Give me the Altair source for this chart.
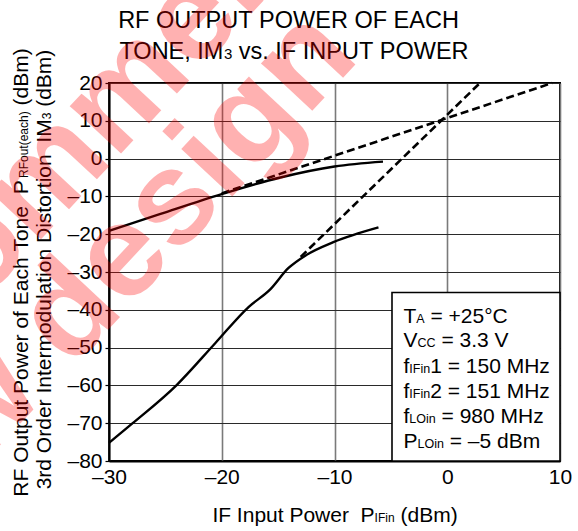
import altair as alt
import pandas as pd

# ---------------- data ----------------
pout_x = [-30.0, -25.5, -20.0, -14.8, -10.0, -5.7]
pout_y = [-19.1, -14.7, -9.4, -5.0, -2.1, -0.8]

im3_x = [-30.0, -27.9, -24.0, -20.6, -17.6, -15.7, -14.1, -12.5, -10.1, -6.1]
im3_y = [-75.2, -70.0, -59.9, -48.9, -39.2, -34.6, -29.0, -25.5, -22.1, -18.2]

pout_ext_x = [-20.0, 9.3]
pout_ext_y = [-9.2, 20.0]
im3_ext_x = [-13.0, 2.9]
im3_ext_y = [-26.0, 20.0]

x_ticks = [-30, -20, -10, 0, 10]
y_ticks = [-80, -70, -60, -50, -40, -30, -20, -10, 0, 10, 20]

title_line1 = "RF OUTPUT POWER OF EACH"
title_line2 = [("TONE, IM", "m"), ("3", "s"), (" vs. IF INPUT POWER", "m")]
x_title = [("IF Input Power  P", "m"), ("IFin", "s"), (" (dBm)", "m")]
y_title1 = [("RF Output Power of Each Tone  P", "m"), ("RFout(each)", "s"), (" (dBm)", "m")]
y_title2 = [("3rd Order Intermodulation Distortion  IM", "m"), ("3", "s"), (" (dBm)", "m")]
cond_lines = [
    [("T", "m"), ("A", "s"), (" = +25°C", "m")],
    [("V", "m"), ("CC", "s"), (" = 3.3 V", "m")],
    [("f", "m"), ("IFin", "s"), ("1 = 150 MHz", "m")],
    [("f", "m"), ("IFin", "s"), ("2 = 151 MHz", "m")],
    [("f", "m"), ("LOin", "s"), (" = 980 MHz", "m")],
    [("P", "m"), ("LOin", "s"), (" = –5 dBm", "m")],
]
watermark = ["Not recommended", "for new design"]

# ---------------- layout ----------------
FONT = "Liberation Sans"
W, H = 451, 378
PL, PT = 109, 83
XMIN, XMAX, YMIN, YMAX = -30, 10, -80, 20
NB = "\u00a0"

AW = {' ': 278, NB: 278, '(': 333, ')': 333, '+': 584, ',': 278, '-': 333, '.': 278,
      '=': 584, '°': 400, '–': 556}
for c in "0123456789":
    AW[c] = 556
AW.update(dict(zip("ABCDEFGHIJKLMNOPQRSTUVWXYZ",
                   [667, 667, 722, 722, 667, 611, 778, 722, 278, 500, 667, 556, 833,
                    722, 778, 667, 778, 722, 667, 611, 722, 667, 944, 667, 667, 611])))
AW.update(dict(zip("abcdefghijklmnopqrstuvwxyz",
                   [556, 556, 500, 556, 556, 278, 556, 556, 222, 222, 500, 222, 833,
                    556, 556, 556, 556, 333, 500, 278, 556, 500, 722, 500, 500, 500])))


def tw(s, size):
    return sum(AW.get(c, 556) for c in s) * size / 1000.0


one = alt.Data(values=[{"k": 0}])


def txt(s, x, y, size, angle=0, align="left", **kw):
    props = dict(text=s.replace(" ", NB), x=x, y=y, fontSize=size, font=FONT,
                 align=align, baseline="alphabetic", color=kw.pop("color", "black"))
    if angle:
        props["angle"] = angle
    props.update(kw)
    return alt.Chart(one).mark_text(**props)


def run(segs, x0, y0, main, sub, vertical=False):
    out = []
    pos = 0.0
    for s, kind in segs:
        size = main if kind == "m" else sub
        lead = len(s) - len(s.lstrip(" "))
        off = pos + tw(" " * lead, size)
        body = s.strip(" ")
        if vertical:
            out.append(txt(body, x0, y0 - off, size, angle=270))
        else:
            out.append(txt(body, x0 + off, y0, size))
        pos += tw(s, size)
    return out


def seg_len(segs, main, sub):
    return sum(tw(s, main if k == "m" else sub) for s, k in segs)


xs = alt.Scale(domain=[XMIN, XMAX], nice=False, zero=False)
ys = alt.Scale(domain=[YMIN, YMAX], nice=False, zero=False)

label_expr = "datum.value < 0 ? '–' + (-datum.value) : '' + datum.value"

x_axis = alt.Axis(values=x_ticks, title=None, labelExpr=label_expr, labelFont=FONT,
                  labelFontSize=21, labelColor="black", labelFlush=False,
                  labelPadding=5, tickSize=0, domainColor="black", domainWidth=2,
                  gridColor="#7a7a7a", gridWidth=1.6, gridOpacity=1)
y_axis = alt.Axis(values=y_ticks, title=None, labelExpr=label_expr, labelFont=FONT,
                  labelFontSize=21, labelColor="black", labelPadding=3, tickSize=4,
                  tickColor="black", tickWidth=1.2, domainColor="black", domainWidth=2,
                  gridColor="#2a2a2a", gridWidth=1.1, gridOpacity=1)


def line_layer(xv, yv, dash=None):
    df = pd.DataFrame({"x": xv, "y": yv})
    kw = dict(color="black", strokeWidth=2.4, interpolate="monotone")
    if dash:
        kw["strokeDash"] = dash
        kw["strokeWidth"] = 2.6
    return alt.Chart(df).mark_line(**kw).encode(
        x=alt.X("x:Q", scale=xs, axis=x_axis),
        y=alt.Y("y:Q", scale=ys, axis=y_axis),
    )


layers = [
    line_layer(pout_x, pout_y),
    line_layer(im3_x, im3_y),
    line_layer(pout_ext_x, pout_ext_y, dash=[8, 4]),
    line_layer(im3_ext_x, im3_ext_y, dash=[8, 4]),
]

# condition box
layers.append(alt.Chart(one).mark_rect(fill="white", stroke="black", strokeWidth=1.6).encode(
    x=alt.value(283), x2=alt.value(W), y=alt.value(209.5), y2=alt.value(H)))
base_ys = [240.3, 264.3, 289.7, 315.0, 340.0, 365.0]
for segs, by in zip(cond_lines, base_ys):
    layers += run(segs, 294.5, by, 21, 12.5)

# title
layers.append(txt(title_line1, 288.5 - PL, 28 - PT, 23.5, align="center"))
l2 = seg_len(title_line2, 23.5, 15)
layers += run(title_line2, 294 - PL - l2 / 2, 59 - PT, 23.5, 15)

# x title
lx = seg_len(x_title, 21, 12)
layers += run(x_title, 335 - PL - lx / 2, 522 - PT, 21, 12)

# y titles (rotated)
l1 = seg_len(y_title1, 21, 12)
layers += run(y_title1, 27.5 - PL, 272.5 - PT + l1 / 2, 21, 12, vertical=True)
l2y = seg_len(y_title2, 21, 12)
layers += run(y_title2, 50.5 - PL, 269.5 - PT + l2y / 2, 21, 12, vertical=True)

# watermark
layers.append(txt(watermark[0], 460 - PL, -210 - PT, 132, angle=313, align="right",
                  color="#ff0000", opacity=0.3, fontWeight="bold"))
layers.append(txt(watermark[1], 361 - PL, 58.5 - PT, 132, angle=313, align="right",
                  color="#ff0000", opacity=0.3, fontWeight="bold"))

chart = alt.layer(*layers).properties(
    width=W, height=H,
    padding={"left": PL, "top": PT, "right": 578 - PL - W, "bottom": 531 - PT - H},
    autosize=alt.AutoSizeParams(type="none"),
    background="white",
).configure_view(stroke="black", strokeWidth=2)

chart.save("out.html", embed_options={"renderer": "svg", "actions": False})
